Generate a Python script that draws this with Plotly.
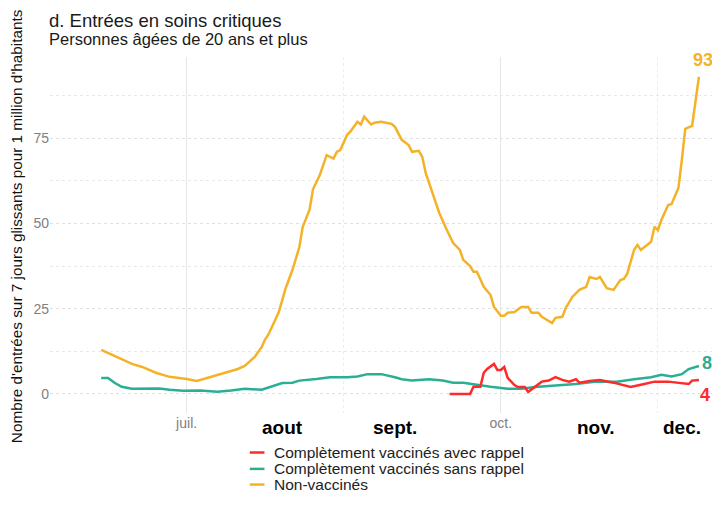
import plotly.graph_objects as go

# ---- data ----
dates_non_vac = ["2021-06-06","2021-06-11","2021-06-15","2021-06-18","2021-06-22","2021-06-26",
    "2021-07-01","2021-07-04","2021-07-07","2021-07-10","2021-07-13","2021-07-16","2021-07-18",
    "2021-07-21","2021-07-23","2021-07-24","2021-07-25","2021-07-26","2021-07-28","2021-07-30",
    "2021-08-01","2021-08-03","2021-08-04","2021-08-06","2021-08-07","2021-08-09","2021-08-11",
    "2021-08-13","2021-08-14","2021-08-15","2021-08-17","2021-08-18","2021-08-20","2021-08-21",
    "2021-08-22","2021-08-24","2021-08-25","2021-08-27","2021-08-30","2021-08-31","2021-09-02",
    "2021-09-04","2021-09-05","2021-09-07","2021-09-08","2021-09-09","2021-09-11","2021-09-13",
    "2021-09-15","2021-09-16","2021-09-17","2021-09-19","2021-09-20","2021-09-22","2021-09-23",
    "2021-09-24","2021-09-26","2021-09-28","2021-09-29","2021-10-01","2021-10-02","2021-10-03",
    "2021-10-05","2021-10-07","2021-10-09","2021-10-10","2021-10-12","2021-10-13","2021-10-16",
    "2021-10-17","2021-10-19","2021-10-20","2021-10-22","2021-10-24","2021-10-26","2021-10-27",
    "2021-10-29","2021-10-30","2021-11-01","2021-11-03","2021-11-05","2021-11-06","2021-11-07",
    "2021-11-09","2021-11-10","2021-11-11","2021-11-13","2021-11-14","2021-11-15","2021-11-16",
    "2021-11-17","2021-11-19","2021-11-20","2021-11-22","2021-11-23","2021-11-24","2021-11-26",
    "2021-11-27","2021-11-28"]
non_vac = [12.9,10.5,8.8,7.9,6.2,5.0,
    4.4,3.8,4.7,5.6,6.5,7.3,8.2,
    10.9,13.8,16.0,17.5,19.7,24.0,31.0,
    36.4,43.0,49.0,54.0,60.0,64.2,70.0,
    69.0,71.0,71.5,76.0,77.0,79.8,79.0,
    81.3,79.0,79.5,79.8,79.2,78.3,74.5,
    73.0,71.0,71.3,69.5,64.8,59.0,53.0,
    48.5,46.6,44.3,42.2,39.3,37.5,35.8,
    35.8,31.4,29.0,25.5,22.9,22.9,23.8,
    24.0,25.5,25.5,23.8,23.8,22.6,20.8,
    22.3,22.6,25.2,28.5,30.5,31.4,34.3,
    33.7,34.3,31.0,30.5,33.4,33.7,35.2,
    42.2,43.7,42.2,43.7,44.6,49.0,48.0,
    51.0,55.4,55.7,60.4,68.6,77.7,78.6,
    86.0,93.0]

dates_sans_rappel = ["2021-06-06","2021-06-08","2021-06-10","2021-06-12","2021-06-15","2021-06-19",
    "2021-06-23","2021-06-26","2021-06-30","2021-07-05","2021-07-10","2021-07-14","2021-07-18",
    "2021-07-23","2021-07-26","2021-07-29","2021-08-01","2021-08-03","2021-08-08","2021-08-12",
    "2021-08-17","2021-08-20","2021-08-23","2021-08-27","2021-08-31","2021-09-02","2021-09-05",
    "2021-09-10","2021-09-14","2021-09-17","2021-09-20","2021-09-24","2021-09-28","2021-10-03",
    "2021-10-07","2021-10-11","2021-10-17","2021-10-23","2021-10-29","2021-11-04","2021-11-09",
    "2021-11-14","2021-11-17","2021-11-20","2021-11-23","2021-11-25","2021-11-28"]
sans_rappel = [4.7,4.7,3.2,2.1,1.5,1.5,
    1.6,1.2,0.9,1.0,0.6,1.0,1.5,
    1.2,2.1,3.2,3.3,3.9,4.4,4.9,
    4.9,5.1,5.8,5.8,4.9,4.3,3.9,
    4.3,3.9,3.3,3.3,2.6,2.1,1.5,
    1.5,2.0,2.4,2.9,3.6,3.6,4.3,
    4.9,5.6,5.1,5.8,7.3,8.2]

dates_avec_rappel = ["2021-09-16","2021-09-22","2021-09-23","2021-09-25","2021-09-26","2021-09-27",
    "2021-09-29","2021-09-30","2021-10-01","2021-10-02","2021-10-03","2021-10-05","2021-10-06",
    "2021-10-08","2021-10-09","2021-10-11","2021-10-13","2021-10-15","2021-10-17","2021-10-19",
    "2021-10-21","2021-10-23","2021-10-24","2021-10-27","2021-10-30","2021-11-03","2021-11-06",
    "2021-11-08","2021-11-12","2021-11-15","2021-11-19","2021-11-22","2021-11-25","2021-11-26",
    "2021-11-28"]
avec_rappel = [0.0,0.0,2.1,2.1,6.2,7.3,
    8.8,7.0,7.0,7.9,4.7,2.6,2.0,
    2.0,0.6,2.0,3.6,3.9,4.9,4.1,
    3.6,4.3,3.3,3.8,4.1,3.3,2.6,
    2.0,2.9,3.6,3.6,3.2,2.9,3.9,
    4.1]

series_names = ["Complètement vaccinés avec rappel", "Complètement vaccinés sans rappel", "Non-vaccinés"]
end_labels = ["4", "8", "93"]

major_x_ticks = ["2021-07-01", "2021-10-01"]
major_x_text = ["juil.", "oct."]
minor_x_ticks = ["2021-08-16", "2021-11-16"]
month_labels = ["aout", "sept.", "nov.", "dec."]
month_label_dates = ["2021-07-29", "2021-08-31", "2021-10-29", "2021-11-23"]
y_ticks = [0, 25, 50, 75]

RED = "#FF2A2A"
GREEN = "#2AAE94"
YELLOW = "#F4B228"
COLORS = [RED, GREEN, YELLOW]
FONT = "Liberation Sans"

fig = go.Figure()
for name, xs, ys, col in [
    (series_names[1], dates_sans_rappel, sans_rappel, GREEN),
    (series_names[0], dates_avec_rappel, avec_rappel, RED),
    (series_names[2], dates_non_vac, non_vac, YELLOW),
]:
    fig.add_trace(go.Scatter(x=xs, y=ys, mode="lines", name=name, showlegend=False,
                             line=dict(color=col, width=2.5)))

# end labels
for xs, ys, txt, col, xa, xs_, ys_ in [
    (dates_avec_rappel, avec_rappel, end_labels[0], RED, "left", -1, -15),
    (dates_sans_rappel, sans_rappel, end_labels[1], GREEN, "left", 1, 3),
    (dates_non_vac, non_vac, end_labels[2], YELLOW, "center", 4, 17),
]:
    fig.add_annotation(x=xs[-1], y=ys[-1], text="<b>%s</b>" % txt, showarrow=False,
                       xanchor=xa, yanchor="middle", xshift=xs_, yshift=ys_,
                       font=dict(size=18, color=col, family=FONT))

# bold month labels
for d, t in zip(month_label_dates, month_labels):
    fig.add_annotation(x=d, y=-0.005, xref="x", yref="paper", yanchor="top", text="<b>%s</b>" % t,
                       showarrow=False, font=dict(size=19, color="black", family=FONT))

# title + subtitle (one text block)
fig.add_annotation(x=-0.004, y=1.079, xref="paper", yref="paper", xanchor="left", yanchor="middle",
                   align="left", showarrow=False,
                   text="<span style='font-size:18.5px'>d. Entrées en soins critiques</span><br>"
                        "<span style='font-size:16.5px'>Personnes âgées de 20 ans et plus</span>",
                   font=dict(size=13.6, color="#1a1a1a", family=FONT))

# y axis title
fig.add_annotation(x=-0.051, y=0.525, xref="paper", yref="paper", xanchor="center", yanchor="middle",
                   text="Nombre d'entrées sur 7 jours glissants pour 1 million d'habitants",
                   textangle=-90, showarrow=False, font=dict(size=15.3, color="#111", family=FONT))

# legend (manual, tight spacing as in reference)
leg_y = [-0.111, -0.157, -0.201]
for col, yy in zip(COLORS, leg_y):
    fig.add_shape(type="line", xref="paper", yref="paper", x0=0.3, x1=0.322, y0=yy, y1=yy,
                  line=dict(color=col, width=2.5))
fig.add_annotation(x=0.333, y=-0.157, xref="paper", yref="paper", xanchor="left", yanchor="middle",
                   align="left", showarrow=False,
                   text="<br>".join("<span style='font-size:15.5px'>%s</span>" % n for n in series_names),
                   font=dict(size=12.4, color="#222", family=FONT))

# The page body adds an 8px margin, so the figure is drawn 8px right/down; compensate.
fig.update_layout(
    width=712, height=498,
    margin=dict(l=42, r=4, t=49, b=93),
    paper_bgcolor="white", plot_bgcolor="white",
    font=dict(family=FONT, color="#333"),
    showlegend=False,
)

fig.update_xaxes(
    range=["2021-05-22", "2021-12-03"], automargin=False,
    tickvals=major_x_ticks, ticktext=major_x_text,
    tickfont=dict(size=14, color="#808080"),
    showgrid=True, gridcolor="#e6e6e6", gridwidth=1,
    minor=dict(tickvals=minor_x_ticks, showgrid=True, gridcolor="#ececec", griddash="dot", gridwidth=1),
    zeroline=False, showline=False, ticks="",
)
fig.update_yaxes(
    range=[-5.6, 98.8], automargin=False,
    tickvals=y_ticks, tickfont=dict(size=14, color="#808080"),
    showgrid=True, gridcolor="#e0e0e0", griddash="dot", gridwidth=1,
    minor=dict(dtick=12.5, tick0=0, showgrid=True, gridcolor="#e8e8e8", griddash="dot", gridwidth=1),
    zeroline=False, showline=False, ticks="",
)

fig.write_html("out.html")
